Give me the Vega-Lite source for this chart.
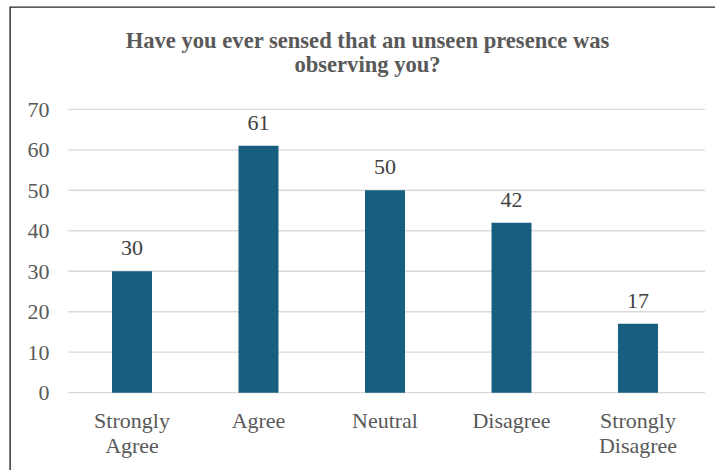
{
  "$schema": "https://vega.github.io/schema/vega-lite/v6.json",
  "width": 715,
  "height": 473,
  "autosize": {"type": "none"},
  "padding": {"left": 10, "top": 7, "right": -10, "bottom": -10},
  "background": "white",
  "config": {
    "view": {"stroke": "#262626", "strokeWidth": 1.4},
    "font": "Liberation Serif"
  },
  "title": {
    "text": ["Have you ever sensed that an unseen presence was", "observing you?"],
    "font": "Liberation Serif",
    "fontSize": 22.6,
    "fontWeight": "bold",
    "color": "#595959",
    "lineHeight": 23.5,
    "anchor": "middle",
    "frame": "group",
    "baseline": "top",
    "offset": -69.3
  },
  "layer": [
    {
      "data": {"values": [{"v": 0}, {"v": 10}, {"v": 20}, {"v": 30}, {"v": 40}, {"v": 50}, {"v": 60}, {"v": 70}]},
      "mark": {"type": "rule", "color": "#d9d9d9", "strokeWidth": 1.3},
      "encoding": {
        "y": {
          "field": "v",
          "type": "quantitative",
          "scale": {"domain": [0, 70], "range": [385.7, 102.3]},
          "axis": {
            "title": null,
            "domain": false,
            "ticks": false,
            "grid": false,
            "values": [0, 10, 20, 30, 40, 50, 60, 70],
            "labelPadding": 0,
            "offset": -39,
            "labelFlush": false,
            "labelFont": "Liberation Serif",
            "labelFontSize": 22,
            "labelColor": "#595959"
          }
        },
        "x": {"datum": 0, "type": "quantitative", "scale": {"domain": [0, 1], "range": [58.3, 695]}, "axis": null},
        "x2": {"datum": 1}
      }
    },
    {
      "data": {
        "values": [
          {"response": "Strongly Agree", "count": 30},
          {"response": "Agree", "count": 61},
          {"response": "Neutral", "count": 50},
          {"response": "Disagree", "count": 42},
          {"response": "Strongly Disagree", "count": 17}
        ]
      },
      "encoding": {
        "x": {
          "field": "response",
          "type": "nominal",
          "sort": null,
          "scale": {"range": [58.75, 691.25], "paddingInner": 0.684, "paddingOuter": 0.342},
          "axis": {
            "title": null,
            "domain": false,
            "ticks": false,
            "labelAngle": 0,
            "labelPadding": 0,
            "offset": -69.4,
            "labelBaseline": "top",
            "labelLineHeight": 25,
            "labelExpr": "split(datum.label, ' ')",
            "labelFont": "Liberation Serif",
            "labelFontSize": 22,
            "labelColor": "#595959"
          }
        },
        "y": {
          "field": "count",
          "type": "quantitative",
          "scale": {"domain": [0, 70], "range": [385.7, 102.3]}
        }
      },
      "layer": [
        {"mark": {"type": "bar", "color": "#175E80"}},
        {
          "mark": {"type": "text", "dy": -16, "baseline": "alphabetic", "font": "Liberation Serif", "fontSize": 22, "color": "#404040"},
          "encoding": {"text": {"field": "count", "type": "quantitative"}}
        }
      ]
    }
  ],
  "resolve": {"scale": {"x": "independent"}}
}
